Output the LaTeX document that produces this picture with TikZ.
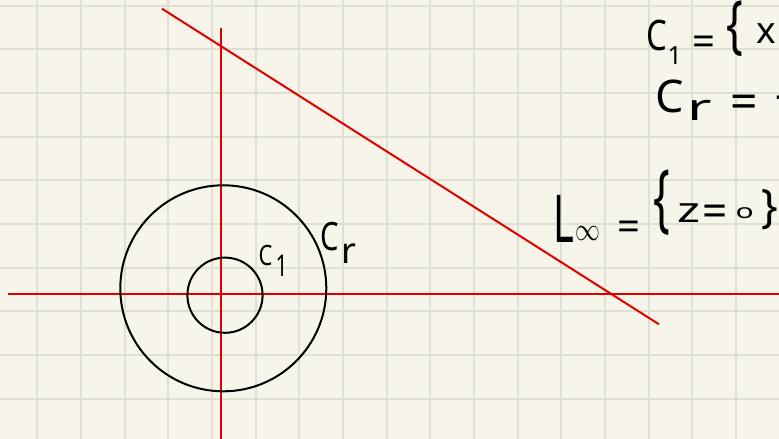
\documentclass[tikz,border=0pt]{standalone}
\usepackage{graphicx}
\usepackage{fontspec}
\setmainfont{Noto Sans}
\newcommand\fs[1]{\fontsize{#1}{#1}\selectfont}
% place glyph(s) #3 at horizontal offset #1 pt, raised by #2 pt, without taking width
\newcommand\at[3]{\makebox[0pt][l]{\hspace{#1pt}\raisebox{#2pt}{#3}}}
\definecolor{paper}{RGB}{247,245,234}
\definecolor{gridc}{RGB}{224,223,212}
\definecolor{redl}{RGB}{224,0,0}
\tikzset{
  gridline/.style={draw=gridc, line width=2pt},
  axis/.style={draw=redl, line width=2pt},
  ring/.style={draw=black, line width=2pt},
  hw/.style={inner sep=0pt, outer sep=0pt, anchor=base west, text=black},
}
\begin{document}
\begin{tikzpicture}[x=1pt,y=-1pt]
\useasboundingbox (0,0) rectangle (779,439);
\clip (0,0) rectangle (779,439);
\fill[paper] (0,0) rectangle (779,439);
% grid
\foreach \k in {0,...,17} {
  \draw[gridline] ({37.3+43.67*\k},0) -- ({37.3+43.67*\k},439);
}
\foreach \k in {0,...,10} {
  \draw[gridline] (0,{5.7+43.67*\k}) -- (779,{5.7+43.67*\k});
}
% axes
\coordinate (vtop) at (220.7,28);
\coordinate (vbot) at (220.7,440);
\coordinate (hl) at (8,294.3);
\coordinate (hr) at (780,294.3);
\coordinate (dtop) at (162,8.7);
\coordinate (dbot) at (659,324.3);
\draw[axis] (vtop) -- (vbot);
\draw[axis] (hl) -- (hr);
\draw[axis] (dtop) -- (dbot);
% circles
\coordinate (co) at (223.3,288.3);
\coordinate (ci) at (225,295.2);
\draw[ring] (co) circle[radius=103];
\draw[ring] (ci) circle[radius=37.6];
% labels
\node[hw] (lc1) at (258,265) {\at{0}{0}{\fs{28}\scalebox{0.78}[1]{C}}\at{17}{-11}{\fs{30}\scalebox{0.7}[1]{1}}};
\node[hw] (lcr) at (320,250) {\at{0}{0}{\fs{39}\scalebox{0.75}[1]{C}}\at{21}{-13}{\fs{36}r}};
\node[hw] (t1) at (646,50) {\at{0}{0}{\fs{42}\scalebox{0.78}[1]{C}}\at{21}{-14}{\fs{25}1}\at{46}{-5}{\fs{40}=}\at{80}{4}{\fs{44}\scalebox{1}[1.45]{\{}}\at{110}{7}{\fs{37}x}};
\node[hw] (t2) at (655,112) {\at{0}{0}{\fs{45}C}\at{32}{-8}{\fs{37}\scalebox{1.6}[1]{r}}\at{75}{-6}{\fs{48}=}\at{120}{3}{\fs{44}-}};
\node[hw] (t3) at (553,242) {\at{0}{0}{\fs{66}\scalebox{0.6}[1]{L}}\at{22}{2}{\fs{35}\scalebox{1}[1.3]{$\infty$}}\at{64}{1.5}{\fs{40}=}\at{100}{19}{\fs{44}\scalebox{1}[1.7]{\{}}\at{124}{20}{\fs{35}\scalebox{1.4}[1]{z}}\at{149}{16}{\fs{44}=}\at{182}{24}{\fs{20}\scalebox{1.5}[1]{o}}\at{208}{20}{\fs{44}\scalebox{1}[1.05]{\}}}};
\end{tikzpicture}
\end{document}
